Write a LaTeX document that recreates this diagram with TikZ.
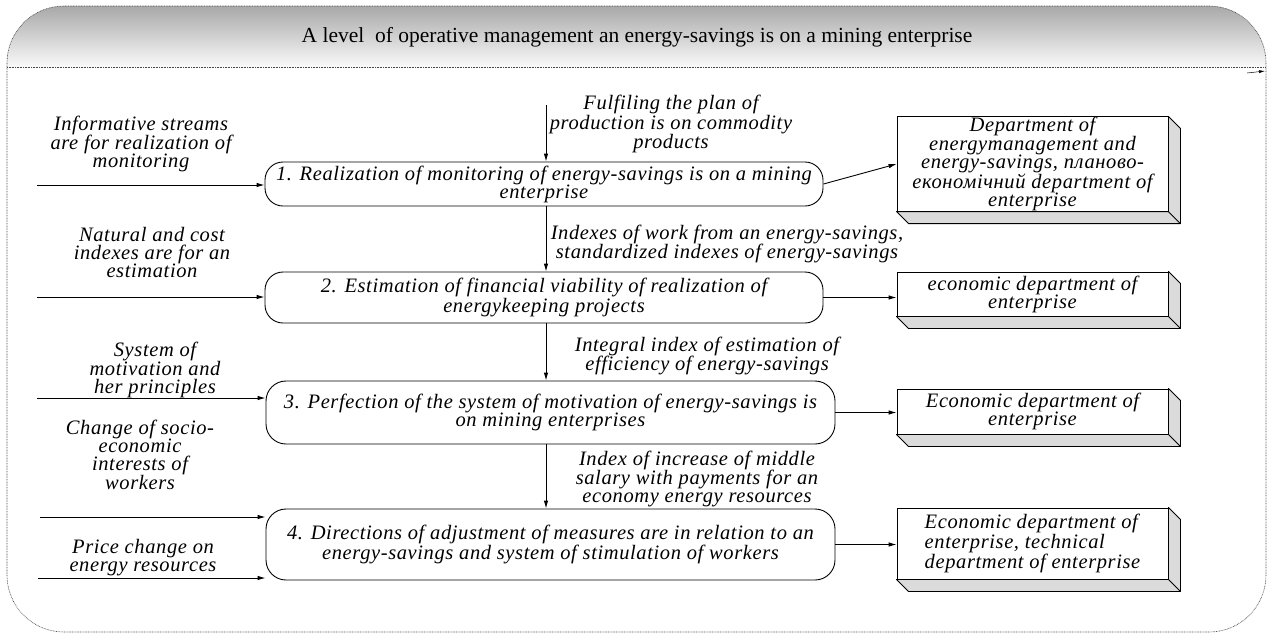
\documentclass[tikz,border=0pt]{standalone}
\usepackage{fontspec}
\setmainfont{Liberation Serif}
\newfontfamily\spacedserif[LetterSpace=3]{Liberation Serif}
\usetikzlibrary{arrows.meta}

\tikzset{
  lbl/.style={font=\spacedserif\itshape\fontsize{20.5}{18}\selectfont, align=center, inner sep=0pt},
  proc/.style={lbl, draw, line width=0.9pt, rounded corners=18pt},
  dept/.style={lbl, draw, fill=white, line width=0.9pt},
  bevel/.style={draw, fill=gray!28, line width=0.9pt, line join=round},
  arr/.style={-{Latex[length=8pt,width=4.5pt]}, line width=0.9pt},
  framed/.style={draw=gray!55!black, line width=0.6pt, dash pattern=on 0.8pt off 0.8pt}
}

\newcommand{\bevelbox}[1]{%
  \draw[bevel] (#1.south west) -- ++(12,12) -- ([shift={(12,12)}]#1.south east)
    -- ([shift={(12,12)}]#1.north east) -- (#1.north east) -- (#1.south east) -- cycle;
  \draw[line width=0.9pt] (#1.south east) -- ++(12,12);
}

\begin{document}
\begin{tikzpicture}[x=1pt,y=-1pt]
\useasboundingbox (0,0) rectangle (1274,638);

% header band with gradient
\begin{scope}
  \clip[rounded corners=57pt] (7,6) rectangle (1266,632);
  \shade[top color=gray!68, bottom color=gray!4] (7,6) rectangle (1266,67);
\end{scope}
\draw[framed, rounded corners=57pt] (7,6) rectangle (1266,632);
\coordinate (hl) at (7,67);
\coordinate (hr) at (1266,67);
\draw[framed] (hl) -- (hr);
\coordinate (ha) at (1247,73);
\coordinate (hb) at (1265,71);
\draw[-{Latex[length=6pt,width=3pt]}, line width=0.5pt] (ha) -- (hb);

\node[font=\fontsize{21.5}{20}\selectfont] (title) at (637,37)
  {A level\ \ of operative management an energy-savings is on a mining enterprise};

% process steps
\node[proc, minimum width=558pt, minimum height=44pt] (p1) at (544,184)
  {1. Realization of monitoring of energy-savings is on a mining\\enterprise};
\node[proc, minimum width=558pt, minimum height=51pt] (p2) at (544,297.5)
  {2. Estimation of financial viability of realization of\\energykeeping projects};
\node[proc, minimum width=569pt, minimum height=63pt, rounded corners=20pt] (p3) at (550.5,412.5)
  {3. Perfection of the system of motivation of energy-savings is\\on mining enterprises};
\node[proc, minimum width=569pt, minimum height=71pt, rounded corners=20pt] (p4) at (550.5,544.5)
  {4. Directions of adjustment of measures are in relation to an\\energy-savings and system of stimulation of workers};

% departments
\node[dept, minimum width=271pt, minimum height=90pt] (d1) at (1032.5,164)
  {Department of\\energymanagement and\\energy-savings, планово-\\економічний department of\\enterprise};
\node[dept, minimum width=271pt, minimum height=44pt] (d2) at (1032.5,294)
  {economic department of\\enterprise};
\node[dept, minimum width=271pt, minimum height=45pt] (d3) at (1032.5,411.5)
  {Economic department of\\enterprise};
\node[dept, minimum width=271pt, minimum height=71pt, align=left] (d4) at (1032.5,543.5)
  {Economic department of\\enterprise, technical\\department of enterprise};
\bevelbox{d1}
\bevelbox{d2}
\bevelbox{d3}
\bevelbox{d4}

% inputs on the left
\node[lbl] (l1) at (141,144) {Informative streams\\are for realization of\\monitoring};
\node[lbl] (l2) at (152,252) {Natural and cost\\indexes are for an\\estimation};
\node[lbl] (l3) at (155,370) {System of\\motivation and\\her principles};
\node[lbl] (l4) at (140,455) {Change of socio-\\economic\\interests of\\workers};
\node[lbl] (l5) at (143,558) {Price change on\\energy resources};

\coordinate (s1) at (37,185);
\coordinate (s2) at (37,297);
\coordinate (s3) at (37,398);
\coordinate (s4) at (40,517);
\coordinate (s5) at (38,578);
\draw[arr] (s1) -- (s1 -| p1.west);
\draw[arr] (s2) -- (s2 -| p2.west);
\draw[arr] (s3) -- (s3 -| p3.west);
\draw[arr] (s4) -- (s4 -| p4.west);
\draw[arr] (s5) -- (s5 -| p4.west);

% flow labels
\node[lbl] (f0) at (671,124) {Fulfiling the plan of\\production is on commodity\\products};
\node[lbl] (f1) at (727,244) {Indexes of work from an energy-savings,\\standardized indexes of energy-savings};
\node[lbl] (f2) at (707,356) {Integral index of estimation of\\efficiency of energy-savings};
\node[lbl] (f3) at (697,479) {Index of increase of middle\\salary with payments for an\\economy energy resources};

% vertical flow
\coordinate (t0) at (546,105);
\draw[arr] (t0) -- (t0 |- p1.north);
\draw[arr] (p1.south -| t0) -- (p2.north -| t0);
\draw[arr] (p2.south -| t0) -- (p3.north -| t0);
\draw[arr] (p3.south -| t0) -- (p4.north -| t0);

% to departments
\draw[arr] (p1.east) -- (d1.west);
\draw[arr] (p2.east) -- (p2.east -| d2.west);
\draw[arr] (p3.east) -- (p3.east -| d3.west);
\draw[arr] (p4.east) -- (p4.east -| d4.west);
\end{tikzpicture}
\end{document}
